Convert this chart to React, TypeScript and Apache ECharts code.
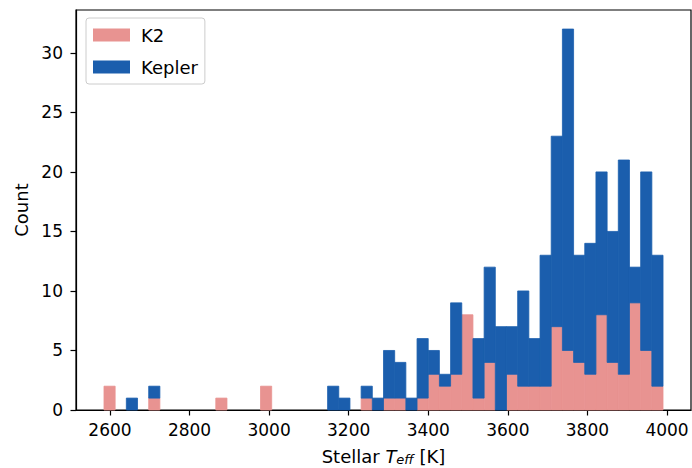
import React, { useEffect, useRef } from "react";
import * as echarts from "echarts";

const binStart = 2585;
const binWidth = 28.1;
const k2Counts = [2,0,0,0,1,0,0,0,0,0,1,0,0,0,2,0,0,0,0,0,0,0,0,1,0,1,1,0,1,3,2,3,8,1,4,0,3,2,2,2,7,5,4,3,8,4,3,9,5,2];
const keplerCounts = [0,0,1,0,1,0,0,0,0,0,0,0,0,0,0,0,0,0,0,0,2,1,0,1,1,4,3,1,5,2,1,6,0,5,8,7,4,8,4,11,16,27,9,11,12,11,18,3,15,11];
const xTicks = [2600, 2800, 3000, 3200, 3400, 3600, 3800, 4000];
const yTicks = [0, 5, 10, 15, 20, 25, 30];
const seriesNames = ["K2", "Kepler"];
const colors = ["#e89391", "#1b5ead"];

const FONT = "DejaVu Sans";
const FS = 18;
const TFS = 17;

export default function App() {
  const ref = useRef<HTMLDivElement>(null);
  useEffect(() => {
    if (!ref.current) return;
    const chart = echarts.init(ref.current, undefined, { renderer: "svg" });
    const k2Data = k2Counts.map((c, i) => [binStart + i * binWidth, binStart + (i + 1) * binWidth, 0, c]);
    const kepData = keplerCounts.map((c, i) => [
      binStart + i * binWidth,
      binStart + (i + 1) * binWidth,
      k2Counts[i],
      k2Counts[i] + c,
    ]);
    const renderItem = (color: string) => (params: any, api: any) => {
      const x0 = api.value(0), x1 = api.value(1), y0 = api.value(2), y1 = api.value(3);
      if (y1 <= y0) return null;
      const p0 = api.coord([x0, y1]);
      const p1 = api.coord([x1, y0]);
      return {
        type: "rect",
        shape: { x: p0[0], y: p0[1], width: p1[0] - p0[0], height: p1[1] - p0[1] },
        style: { fill: color, stroke: color, lineWidth: 0.8 },
      };
    };
    chart.setOption({
      animation: false,
      textStyle: { fontFamily: FONT },
      grid: {
        left: 76, top: 10, width: 615, height: 400,
        outerBoundsMode: "none",
        containLabel: false,
        show: true, borderColor: "#000", borderWidth: 1.2, backgroundColor: "transparent",
      },
      legend: {
        left: 86, top: 18, orient: "vertical",
        padding: [8, 7, 8, 7],
        itemWidth: 37, itemHeight: 13, itemGap: 14,
        borderColor: "#cccccc", borderWidth: 1, borderRadius: 3,
        backgroundColor: "rgba(255,255,255,0.8)",
        textStyle: { fontFamily: FONT, fontSize: FS, color: "#000", padding: [0, 0, 0, 6] },
        data: seriesNames.map((n, i) => ({ name: n, icon: "rect", itemStyle: { color: colors[i] } })),
      },
      xAxis: {
        type: "value",
        min: 2514.7,
        max: 4060.3,
        splitLine: { show: false },
        axisLine: { show: true, onZero: false, lineStyle: { color: "#000", width: 1.2 } },
        axisTick: { show: true, customValues: xTicks, length: 5.5, lineStyle: { color: "#000", width: 1.2 } },
        axisLabel: { customValues: xTicks, color: "#000", fontSize: TFS, fontFamily: FONT, margin: 11, formatter: (v: number) => String(v) },
        name: "{n|Stellar }{i|T}{s|eff}{n| [K]}",
        nameLocation: "middle",
        nameGap: 36,
        nameTextStyle: {
          color: "#000",
          rich: {
            n: { fontSize: FS, fontFamily: FONT, lineHeight: 20, color: "#000" },
            i: { fontSize: FS, fontFamily: FONT, fontStyle: "italic", lineHeight: 20, color: "#000" },
            s: { fontSize: 13, fontFamily: FONT, fontStyle: "italic", lineHeight: 11, verticalAlign: "bottom", color: "#000" },
          },
        },
      },
      yAxis: {
        type: "value",
        min: 0,
        max: 33.6,
        splitLine: { show: false },
        axisLine: { show: true, lineStyle: { color: "#000", width: 1.2 } },
        axisTick: { show: true, customValues: yTicks, length: 5.5, lineStyle: { color: "#000", width: 1.2 } },
        axisLabel: { customValues: yTicks, color: "#000", fontSize: TFS, fontFamily: FONT, margin: 13, formatter: (v: number) => String(v) },
        name: "Count",
        nameLocation: "middle",
        nameGap: 44,
        nameTextStyle: { color: "#000", fontSize: FS, fontFamily: FONT },
      },
      series: [
        { name: seriesNames[0], type: "custom", renderItem: renderItem(colors[0]), data: k2Data, encode: { x: [0, 1], y: [2, 3] }, itemStyle: { color: colors[0] } },
        { name: seriesNames[1], type: "custom", renderItem: renderItem(colors[1]), data: kepData, encode: { x: [0, 1], y: [2, 3] }, itemStyle: { color: colors[1] } },
      ],
    });
    return () => chart.dispose();
  }, []);
  return <div ref={ref} style={{ position: "fixed", left: 0, top: 0, width: 692, height: 468, background: "#fff" }} />;
}
